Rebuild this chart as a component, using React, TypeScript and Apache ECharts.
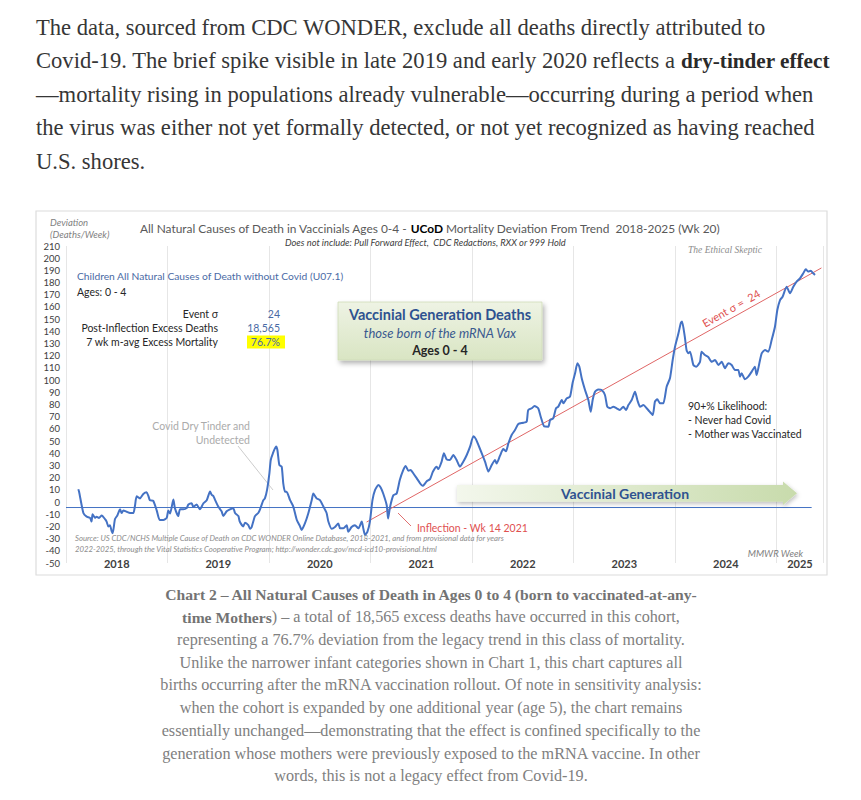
import React, { useEffect, useRef } from "react";
import * as echarts from "echarts";

// ---------- data ----------
const years = ["2018", "2019", "2020", "2021", "2022", "2023", "2024", "2025"];
const yearStartWeeks = [0, 52, 104, 156, 208, 260, 312, 364];
const yearLabelWeeks = [26, 78, 130, 182, 234, 286, 338, 376];

// [MMWR week of year, deviation (deaths/week)] – 7 wk moving average
const s2018 = [[6.3,10.5],[6.7,8.5],[8.9,-9],[10.6,-12],[12.3,-13],[13.1,-16],[13.6,-10],[14.9,-13],[15.7,-12],[16.9,-13],[18.3,-11],[20,-14],[20.8,-16],[21.7,-20],[22.5,-19],[23.4,-24],[23.9,-25.6],[25.1,-14],[26.3,-11],[27.7,-6],[28.5,-9],[29.4,-7],[31.1,-8],[32.8,-9],[34.5,-9],[35.3,-3.5],[36.2,4.7],[37.9,3],[39.6,6.6],[41.3,8],[42.2,5],[43,1.4],[44.7,1],[46.5,-7],[48,-14.7],[49.9,-14.7],[51.6,-13]];
const s2019 = [[0.4,-7],[1.3,-9.5],[3,2],[3.8,-5],[5.5,-11.5],[6.4,-6],[8.1,-6],[9.8,-5],[10.7,-2],[12.4,-1],[13.2,-4],[14.9,-2],[16.6,-6],[18.4,-1],[20.1,1.5],[21.8,8.7],[22.6,6],[23.5,5],[24.3,2],[26,-3.7],[27.7,-7.6],[28.6,-11.5],[30.3,-7.6],[32,-6],[33.7,-5],[34.6,-9],[36.3,-11.5],[37,-16],[38.8,-20],[39.7,-17],[41.4,-19],[42.3,-22],[43.1,-20.5],[44.8,-11.5],[46.5,-9],[47.4,-6],[49.1,1.5],[49.9,3],[51,10]];
const s2020 = [[0.2,23.6],[0.9,34.5],[2,40],[3.6,45.5],[4.3,42.7],[5.3,30.4],[6.5,29],[7.3,15.4],[8.2,8.5],[9,8.5],[10.8,1.5],[12.4,-3.5],[14.2,-14.5],[15.9,-20],[16.7,-23],[18.4,-17.5],[20.1,-9.4],[21.9,1.6],[22.7,7],[24.4,3],[26.1,1.6],[27.8,-3.5],[29.5,-9],[30.4,-16],[32.1,-22],[33.8,-20.5],[35.5,-17.5],[36.4,-21.6],[38.1,-21.6],[39.8,-19],[40.6,-24.4],[42.3,-20.5],[44,-19],[45.8,-21.6],[47.5,-16],[48.3,-21.6],[49.2,-27],[50.4,-24.4],[51.7,-16]];
const s2021 = [[1,1.6],[2.3,9.8],[4,13.9],[5.2,12],[6.5,7],[8.3,-2.6],[9,-13.5],[10,-4],[11.7,5.6],[13.4,7],[15,18],[16.8,26.3],[18,29.6],[19.4,25.7],[20.6,26.3],[21.9,23.6],[23.7,19.4],[25.4,15.4],[26.7,13.3],[28.8,17],[30.5,18.8],[32,25],[33.9,29],[34.7,27],[36.4,33],[37.6,40],[39,35],[40.7,34.5],[42.4,38.6],[44.1,34.5],[45.8,29],[47.5,33],[49.3,38.6],[51,45.4]];
const s2022 = [[0.7,54],[2,51.6],[3.2,47],[5,40],[6.7,33],[8.4,25],[10.1,30.3],[11.8,34.5],[12.6,31.6],[14.3,37.8],[16,43.4],[17.4,41.6],[18.6,48],[20.3,55],[22,59],[23.7,64],[26.3,65],[28,66],[28.8,75.5],[30.6,76.9],[32,78.8],[33.9,77],[35.2,70],[37,62],[39.1,61.8],[40,67.3],[41.6,68.6],[43,76.9],[44.2,78.2],[46,83.7],[46.8,81],[48.5,85],[50.2,86.4],[51.5,97.4]];
const s2023 = [[0.8,105.6],[2,113.8],[3,111],[4.2,101.5],[5.9,91.9],[7.6,83.7],[8.8,74],[9.8,83.7],[11,90.5],[12.7,92.4],[14.4,91.9],[16.1,87.8],[17.3,78.2],[18.7,76.9],[20.4,78.2],[22.1,76.9],[23.8,75.5],[25.5,78.2],[26.9,75.5],[28.1,79.5],[29.8,83.7],[31.5,90.5],[32.7,83.7],[34.1,78.2],[35.8,79.5],[37.5,76.9],[39,74.1],[40.6,71.4],[41.7,82.3],[42.9,84.3],[44.3,81],[46,81],[47.7,94.6],[49.4,101.5],[50.8,116.5],[52,127.4]];
const s2024 = [[1.7,138],[3,147],[3.6,148],[5,135.6],[5.9,124.7],[6.8,122],[7.7,123.3],[9.4,112.4],[10.9,111],[12.8,115],[13.6,123.3],[15.3,120.6],[17,119],[18.8,115],[20.5,116.5],[22.2,112.4],[23.9,115],[25.6,109.7],[27.3,113.8],[29,112.4],[30.7,108.3],[32.4,108.3],[33.3,102.8],[34.1,105.6],[35.8,100.7],[37.5,102.8],[39.3,107],[40.9,111],[41.8,104.2],[43.2,113.8],[44.4,122],[46.1,124.7],[47.8,123.3],[49.5,132.9],[51.2,143.8]];
const s2025 = [[0.4,157.5],[1.8,165.7],[3.1,168.4],[5.2,176.6],[6.9,171.2],[8.6,176.6],[10.3,180.7],[12,183.4],[13.7,187.6],[15,190.9],[16.3,189],[17.5,189.8],[18.8,187.6],[19.7,186.2]];
const seriesByYear = [s2018, s2019, s2020, s2021, s2022, s2023, s2024, s2025];

const baselineValue = -4.5;
const baselineWeeks = [0, 382];
const trendPoints = [[154, -16.4], [387, 192]];

const yMin = -50;
const yMax = 210;
const yStep = 10;
const xMaxWeek = 388;
const weekStep = 52;

// ---------- texts ----------
const introLines = [
  "The data, sourced from CDC WONDER, exclude all deaths directly attributed to",
  "Covid-19. The brief spike visible in late 2019 and early 2020 reflects a ",
  "—mortality rising in populations already vulnerable—occurring during a period when",
  "the virus was either not yet formally detected, or not yet recognized as having reached",
  "U.S. shores.",
];
const introBold = "dry-tinder effect";
const captionLines = [
  "Chart 2 – All Natural Causes of Death in Ages 0 to 4 (born to vaccinated-at-any-",
  ") – a total of 18,565 excess deaths have occurred in this cohort,",
  "representing a 76.7% deviation from the legacy trend in this class of mortality.",
  "Unlike the narrower infant categories shown in Chart 1, this chart captures all",
  "births occurring after the mRNA vaccination rollout. Of note in sensitivity analysis:",
  "when the cohort is expanded by one additional year (age 5), the chart remains",
  "essentially unchanged—demonstrating that the effect is confined specifically to the",
  "generation whose mothers were previously exposed to the mRNA vaccine. In other",
  "words, this is not a legacy effect from Covid-19.",
];
const captionBold2 = "time Mothers";
const statLabels = ["Event σ", "Post-Inflection Excess Deaths", "7 wk m-avg Excess Mortality"];
const statValues = ["24", "18,565", "76.7%"];
const likelihoodLines = ["90+% Likelihood:", "- Never had Covid", "- Mother was Vaccinated"];

const SANS = "Lato, 'Noto Sans', sans-serif";
const SERIF = "'Liberation Serif', 'DejaVu Serif', serif";

export default function App() {
  const ref = useRef<HTMLDivElement>(null);
  useEffect(() => {
    if (!ref.current) return;
    const chart = echarts.init(ref.current, undefined, { renderer: "svg" });

    const lineData = seriesByYear.flatMap((arr, i) =>
      arr.map(([w, v]) => [yearStartWeeks[i] + w, v])
    );

    const pxPerWeek = 1.952;
    const G = { left: 66, top: 246, width: xMaxWeek * pxPerWeek, height: 317 };

    const txt = (x: number, y: number, text: string, s: any = {}, extra: any = {}) => ({
      type: "text",
      x,
      y,
      z: 10,
      ...extra,
      style: {
        text,
        fontFamily: SANS,
        fontSize: 11,
        fill: "#262626",
        align: "left",
        verticalAlign: "middle",
        ...s,
      },
    });

    const introY = [27, 60.5, 94, 127.5, 161];
    const capY = [594, 617, 640, 662.5, 685, 708, 731, 754, 776];
    const introFS = 22.6;
    const capFS = 16.2;

    const graphics: any[] = [];

    // intro paragraph
    introLines.forEach((line, i) => {
      if (i === 1) {
        graphics.push(
          txt(36, introY[i], `{n|${line}}{b|${introBold}}`, {
            fontFamily: SERIF,
            fontSize: introFS,
            fill: "#363636",
            rich: {
              n: { fontFamily: SERIF, fontSize: introFS, fill: "#363636" },
              b: { fontFamily: SERIF, fontSize: 21.2, fill: "#2a2a2a", fontWeight: "bold" },
            },
          })
        );
      } else {
        graphics.push(txt(36, introY[i], line, { fontFamily: SERIF, fontSize: introFS, fill: "#363636" }));
      }
    });

    // caption
    captionLines.forEach((line, i) => {
      const base = { fontFamily: SERIF, fontSize: capFS, fill: "#808080", align: "center" };
      if (i === 0) {
        graphics.push(txt(431, capY[i], line, { ...base, fontSize: 15.6, fontWeight: "bold", fill: "#737373" }));
      } else if (i === 1) {
        graphics.push(
          txt(431, capY[i], `{b|${captionBold2}}{n|${line}}`, {
            ...base,
            rich: {
              b: { fontFamily: SERIF, fontSize: 15.6, fill: "#737373", fontWeight: "bold" },
              n: { fontFamily: SERIF, fontSize: capFS, fill: "#808080" },
            },
          })
        );
      } else {
        graphics.push(txt(431, capY[i], line, base));
      }
    });

    // chart frame
    graphics.push({
      type: "rect",
      z: -5,
      shape: { x: 36, y: 211, width: 791, height: 364 },
      style: { fill: "none", stroke: "#dcdcdc", lineWidth: 1.2 },
    });

    // axis caption
    graphics.push(txt(50, 222, "Deviation", { fontSize: 9.5, fontStyle: "italic", fill: "#7f7f7f" }));
    graphics.push(txt(50, 234, "(Deaths/Week)", { fontSize: 9.5, fontStyle: "italic", fill: "#7f7f7f" }));

    // title
    const tFS = 11.9;
    graphics.push(
      txt(140, 228, "{a|All Natural Causes of Death in Vaccinials Ages 0-4 - }{b|UCoD}{a| Mortality Deviation From Trend  2018-2025 (Wk 20)}", {
        fontSize: tFS,
        fill: "#595959",
        rich: {
          a: { fontFamily: SANS, fontSize: tFS, fill: "#595959" },
          b: { fontFamily: SANS, fontSize: tFS, fill: "#000000", fontWeight: "bold" },
        },
      })
    );
    graphics.push(
      txt(285, 242, "Does not include: Pull Forward Effect,  CDC Redactions, RXX or 999 Hold", {
        fontSize: 9.3,
        fontStyle: "italic",
        fill: "#404040",
      })
    );
    graphics.push(
      txt(725, 250, "The Ethical Skeptic", {
        fontFamily: SERIF,
        fontSize: 9.5,
        fontStyle: "italic",
        fill: "#8c8c8c",
        align: "center",
      })
    );

    // left annotations
    graphics.push(txt(77, 276, "Children All Natural Causes of Death without Covid (U07.1)", { fontSize: 10.25, fill: "#4a6aa5" }));
    graphics.push(txt(77, 292, "Ages: 0 - 4", { fontSize: 10.5, fill: "#262626" }));
    const statY = [314, 328, 342];
    graphics.push({
      type: "rect",
      z: 5,
      shape: { x: 247, y: 335.5, width: 38, height: 13 },
      style: { fill: "#ffff00" },
    });
    statLabels.forEach((s, i) => {
      graphics.push(txt(218, statY[i], s, { fontSize: 10.5, align: "right", fill: "#262626" }));
      graphics.push(txt(280, statY[i], statValues[i], { fontSize: 10.5, align: "right", fill: "#4a6aa5" }));
    });

    // green box
    graphics.push({
      type: "rect",
      z: 4,
      shape: { x: 338, y: 302, width: 204, height: 58 },
      style: {
        fill: new echarts.graphic.LinearGradient(0, 0, 0, 1, [
          { offset: 0, color: "#eef3e4" },
          { offset: 1, color: "#d9e5c3" },
        ]),
        stroke: "#cfdcb8",
        lineWidth: 0.8,
        shadowBlur: 5,
        shadowOffsetX: 2,
        shadowOffsetY: 3,
        shadowColor: "rgba(0,0,0,0.3)",
      },
    });
    graphics.push(txt(440, 314, "Vaccinial Generation Deaths", { fontSize: 14.5, fontWeight: "bold", fill: "#2e5290", align: "center" }));
    graphics.push(txt(440, 333, "those born of the mRNA Vax", { fontSize: 13, fontStyle: "italic", fill: "#3a5a8f", align: "center" }));
    graphics.push(txt(440, 350, "Ages 0 - 4", { fontSize: 12.5, fontWeight: "bold", fill: "#262626", align: "center" }));

    // dry tinder note
    graphics.push(txt(250, 426, "Covid Dry Tinder and", { fontSize: 10.5, fill: "#ababab", align: "right" }));
    graphics.push(txt(250, 440, "Undetected", { fontSize: 10.5, fill: "#ababab", align: "right" }));
    graphics.push({
      type: "line",
      z: 3,
      shape: { x1: 238, y1: 446, x2: 273, y2: 490 },
      style: { stroke: "#cccccc", lineWidth: 1 },
    });

    // source
    const srcFS = 7.75;
    graphics.push(
      txt(75, 538, "Source: US CDC/NCHS Multiple Cause of Death on CDC WONDER Online Database, 2018-2021, and from provisional data for years", {
        fontSize: srcFS,
        fontStyle: "italic",
        fill: "#8c8c8c",
      })
    );
    graphics.push(
      txt(75, 548.5, "2022-2025, through the Vital Statistics Cooperative Program; http://wonder.cdc.gov/mcd-icd10-provisional.html", {
        fontSize: srcFS,
        fontStyle: "italic",
        fill: "#8c8c8c",
      })
    );

    // inflection
    graphics.push(txt(417, 528, "Inflection - Wk 14 2021", { fontSize: 10.5, fill: "#e05050" }));
    graphics.push({
      type: "line",
      z: 3,
      shape: { x1: 398, y1: 513, x2: 411, y2: 526 },
      style: { stroke: "#e07070", lineWidth: 1 },
    });

    // event sigma along trend
    graphics.push(
      txt(731, 308, "Event σ =  24", { fontSize: 11, fill: "#e05050", align: "center" }, { rotation: (29.3 * Math.PI) / 180 })
    );

    // likelihood
    likelihoodLines.forEach((l, i) => {
      graphics.push(txt(688, 406 + i * 14, l, { fontSize: 10.5, fill: "#262626" }));
    });

    // arrow
    graphics.push({
      type: "polygon",
      z: 4,
      shape: {
        points: [
          [457, 485],
          [783, 485],
          [783, 481.5],
          [797, 493.3],
          [783, 505],
          [783, 501.7],
          [457, 501.7],
        ],
      },
      style: {
        fill: new echarts.graphic.LinearGradient(0, 0, 1, 0, [
          { offset: 0, color: "#f3f7ec" },
          { offset: 1, color: "#c8dbac" },
        ]),
        shadowBlur: 4,
        shadowOffsetX: 1,
        shadowOffsetY: 2,
        shadowColor: "rgba(0,0,0,0.25)",
      },
    });
    graphics.push(txt(625, 493, "Vaccinial Generation", { fontSize: 14, fontWeight: "bold", fill: "#2f5290", align: "center" }));

    graphics.push(txt(803, 553, "MMWR Week", { fontSize: 9.5, fontStyle: "italic", fill: "#7f7f7f", align: "right" }));

    const option: any = {
      animation: false,
      backgroundColor: "#ffffff",
      grid: { ...G, containLabel: false, outerBoundsMode: "none" },
      xAxis: {
        type: "value",
        min: 0,
        max: xMaxWeek,
        interval: weekStep,
        axisLine: { show: false },
        axisTick: { show: false },
        splitLine: { show: true, lineStyle: { color: "#e6e6e6", width: 1 } },
        axisLabel: {
          customValues: yearLabelWeeks,
          formatter: (v: number) => {
            const i = yearLabelWeeks.indexOf(v);
            return i >= 0 ? years[i] : "";
          },
          margin: 0,
          verticalAlign: "middle",
          fontFamily: SANS,
          fontSize: 11,
          fontWeight: "bold",
          color: "#404040",
        },
      },
      yAxis: {
        type: "value",
        min: yMin,
        max: yMax,
        interval: yStep,
        axisLine: { show: false },
        axisTick: { show: false },
        splitLine: { show: false },
        axisLabel: {
          margin: 6,
          fontFamily: SANS,
          fontSize: 9.5,
          color: "#404040",
        },
      },
      series: [
        {
          type: "line",
          name: "baseline",
          data: baselineWeeks.map((w) => [w, baselineValue]),
          symbol: "none",
          lineStyle: { color: "#4472c4", width: 1 },
          z: 2,
          silent: true,
        },
        {
          type: "line",
          name: "trend",
          data: trendPoints,
          symbol: "none",
          lineStyle: { color: "#e06666", width: 1 },
          z: 3,
          silent: true,
        },
        {
          type: "line",
          name: "deviation",
          data: lineData,
          symbol: "none",
          smooth: 0.2,
          lineStyle: { color: "#4472c4", width: 2 },
          z: 4,
        },
      ],
      graphic: graphics,
    };
    chart.setOption(option);
    return () => chart.dispose();
  }, []);

  return (
    <div
      ref={ref}
      style={{ position: "absolute", left: 0, top: 0, width: 861, height: 800 }}
    />
  );
}
